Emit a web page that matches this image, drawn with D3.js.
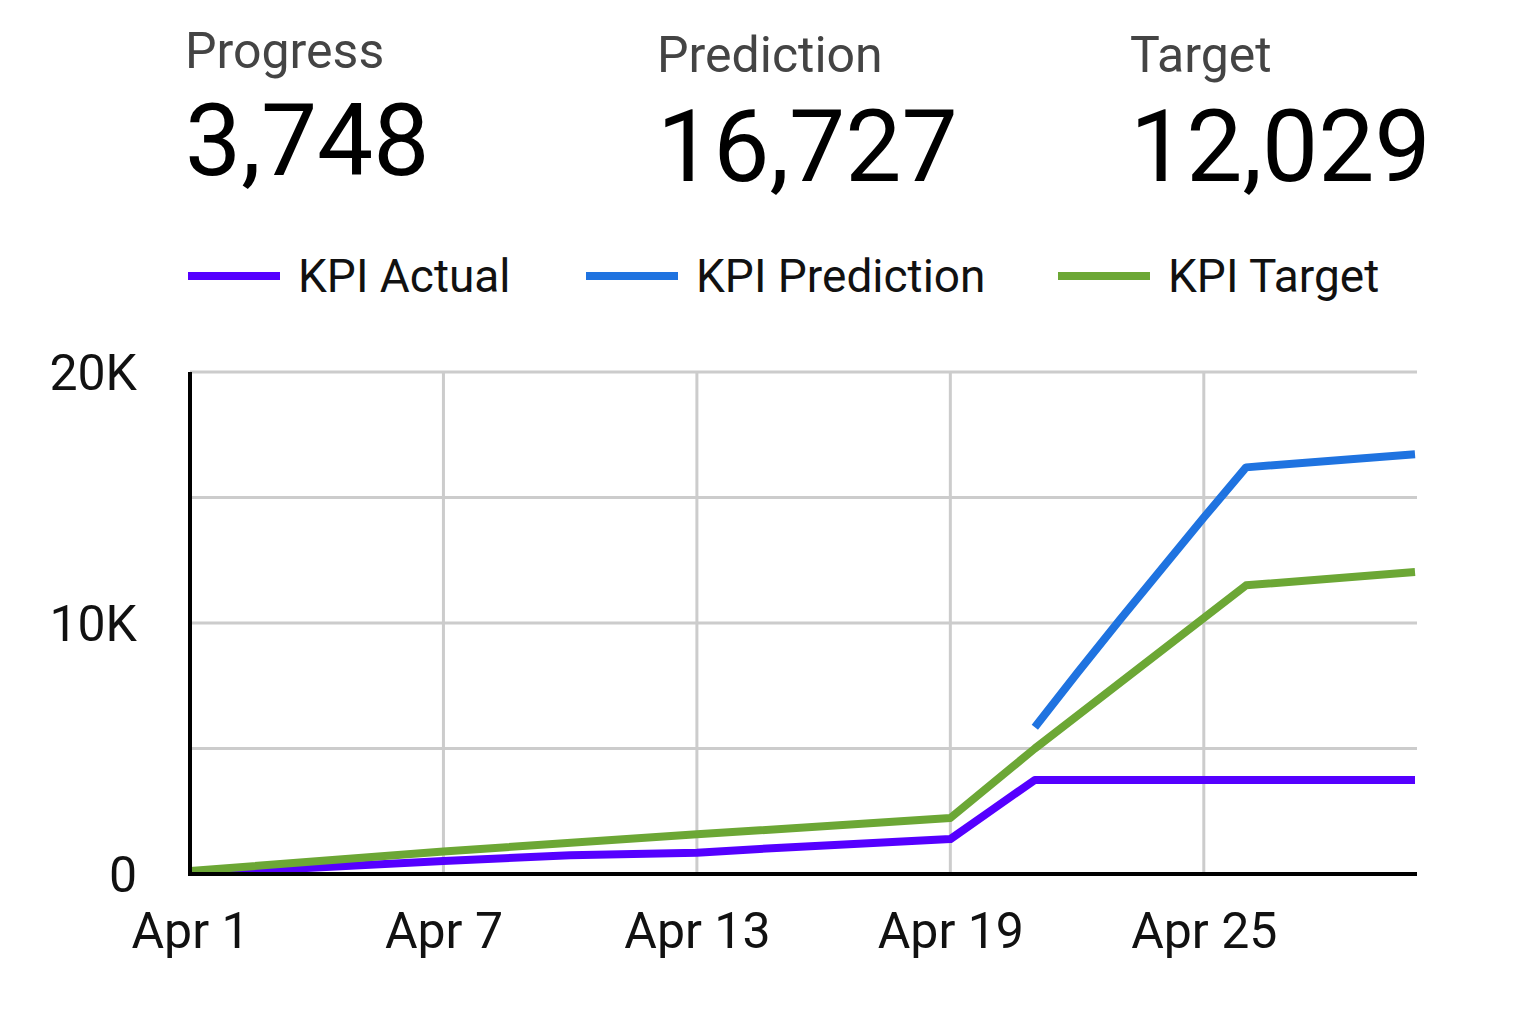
<!DOCTYPE html>
<html>
<head>
<meta charset="utf-8">
<script src="https://cdn.jsdelivr.net/npm/d3@7"></script>
<style>
  html, body { margin: 0; padding: 0; background: #fff; }
  svg { display: block; font-family: Roboto, "Noto Sans", sans-serif; }
</style>
</head>
<body>
<svg id="chart" width="1532" height="1024"></svg>
<script>
// ---- Data ----
const scorecardLabels = ["Progress", "Prediction", "Target"];
const scorecardValues = [3748, 16727, 12029];

const seriesNames = ["KPI Actual", "KPI Prediction", "KPI Target"];
const seriesColors = ["#5500ff", "#1f73e0", "#6ca735"];

const actualDates = ["2020-04-01", "2020-04-07", "2020-04-10", "2020-04-13", "2020-04-15", "2020-04-19", "2020-04-20", "2020-04-21", "2020-04-30"];
const actualValues = [0, 520, 750, 850, 1050, 1390, 2570, 3748, 3748];

const predictionDates = ["2020-04-21", "2020-04-22", "2020-04-23", "2020-04-24", "2020-04-25", "2020-04-26", "2020-04-30"];
const predictionValues = [5850, 8000, 10100, 12150, 14200, 16200, 16727];

const targetDates = ["2020-04-01", "2020-04-07", "2020-04-13", "2020-04-19", "2020-04-21", "2020-04-26", "2020-04-30"];
const targetValues = [120, 900, 1580, 2230, 5000, 11500, 12029];

const xTickDates = ["2020-04-01", "2020-04-07", "2020-04-13", "2020-04-19", "2020-04-25"];
const yTickValues = [0, 10000, 20000];
const yTickLabels = ["0", "10K", "20K"];
const yGridValues = [0, 5000, 10000, 15000, 20000];
const xDomain = ["2020-04-01", "2020-04-30"];

// ---- Setup ----
const parse = d3.utcParse("%Y-%m-%d");
const svg = d3.select("#chart");

const plotLeft = 190, plotRight = 1415, plotTop = 372, plotBottom = 874;
const x = d3.scaleUtc().domain(xDomain.map(parse)).range([plotLeft, plotRight]);
const y = d3.scaleLinear().domain([0, 20000]).range([plotBottom, plotTop]);

// ---- Scorecards ----
const cardX = [185, 657, 1130];
const fmt = d3.format(",");
const cards = svg.append("g").selectAll("g").data(scorecardLabels).join("g")
  .attr("transform", (d, i) => `translate(${cardX[i]},0)`);
cards.append("text")
  .attr("x", 0).attr("y", (d, i) => i === 0 ? 68 : 72)
  .attr("font-size", 50).attr("fill", "#444")
  .text(d => d);
cards.append("text")
  .attr("x", 0).attr("y", (d, i) => i === 0 ? 175 : 181)
  .attr("font-size", 100).attr("fill", "#000")
  .text((d, i) => fmt(scorecardValues[i]));

// ---- Legend ----
const legendX = [188, 586, 1058];
const leg = svg.append("g").selectAll("g").data(seriesNames).join("g")
  .attr("transform", (d, i) => `translate(${legendX[i]},276)`);
leg.append("line").attr("x1", 0).attr("x2", 92).attr("y1", 0).attr("y2", 0)
  .attr("stroke", (d, i) => seriesColors[i]).attr("stroke-width", 8);
leg.append("text").attr("x", 110).attr("y", 16)
  .attr("font-size", 46).attr("fill", "#111").text(d => d);

// ---- Gridlines ----
const grid = svg.append("g");
grid.selectAll("line.h").data(yGridValues).join("line").attr("class", "h")
  .attr("x1", plotLeft).attr("x2", plotRight + 2)
  .attr("y1", d => y(d)).attr("y2", d => y(d))
  .attr("stroke", "#cccccc").attr("stroke-width", 3);
grid.selectAll("line.v").data(xTickDates.slice(1)).join("line").attr("class", "v")
  .attr("x1", d => x(parse(d))).attr("x2", d => x(parse(d)))
  .attr("y1", plotTop).attr("y2", plotBottom)
  .attr("stroke", "#cccccc").attr("stroke-width", 3);

// ---- Axes ----
const xAxis = d3.axisBottom(x)
  .tickValues(xTickDates.map(parse))
  .tickFormat(d3.utcFormat("%b %-d"))
  .tickSize(0).tickPadding(38);
const gx = svg.append("g").attr("transform", `translate(0,${plotBottom})`).call(xAxis);
gx.select(".domain").remove();
gx.selectAll("text").attr("font-size", 50).attr("fill", "#111")
  .attr("font-family", "Roboto, sans-serif");

const yAxis = d3.axisLeft(y)
  .tickValues(yTickValues)
  .tickFormat((d, i) => yTickLabels[i])
  .tickSize(0).tickPadding(53);
const gy = svg.append("g").attr("transform", `translate(${plotLeft},0)`).call(yAxis);
gy.select(".domain").remove();
gy.selectAll("text").attr("font-size", 50).attr("fill", "#111")
  .attr("font-family", "Roboto, sans-serif").attr("dy", "0.35em");

// ---- Series lines ----
const line = d3.line().x(d => x(d.date)).y(d => y(d.value));
const series = [
  { dates: actualDates, values: actualValues, color: seriesColors[0] },
  { dates: predictionDates, values: predictionValues, color: seriesColors[1] },
  { dates: targetDates, values: targetValues, color: seriesColors[2] }
];
svg.append("clipPath").attr("id", "plotclip").append("rect")
  .attr("x", plotLeft).attr("y", plotTop - 10).attr("width", plotRight - plotLeft + 5)
  .attr("height", plotBottom - plotTop + 10);
const lines = svg.append("g").attr("clip-path", "url(#plotclip)");
lines.selectAll("path").data(series).join("path")
  .attr("d", s => line(s.dates.map((d, i) => ({ date: parse(d), value: s.values[i] }))))
  .attr("fill", "none").attr("stroke", s => s.color)
  .attr("stroke-width", 8).attr("stroke-linejoin", "round");

// axis lines (black)
svg.append("line").attr("x1", plotLeft).attr("x2", plotLeft)
  .attr("y1", plotTop).attr("y2", plotBottom + 2)
  .attr("stroke", "#000").attr("stroke-width", 4);
svg.append("line").attr("x1", plotLeft - 2).attr("x2", plotRight + 2)
  .attr("y1", plotBottom).attr("y2", plotBottom)
  .attr("stroke", "#000").attr("stroke-width", 4);
</script>
</body>
</html>
